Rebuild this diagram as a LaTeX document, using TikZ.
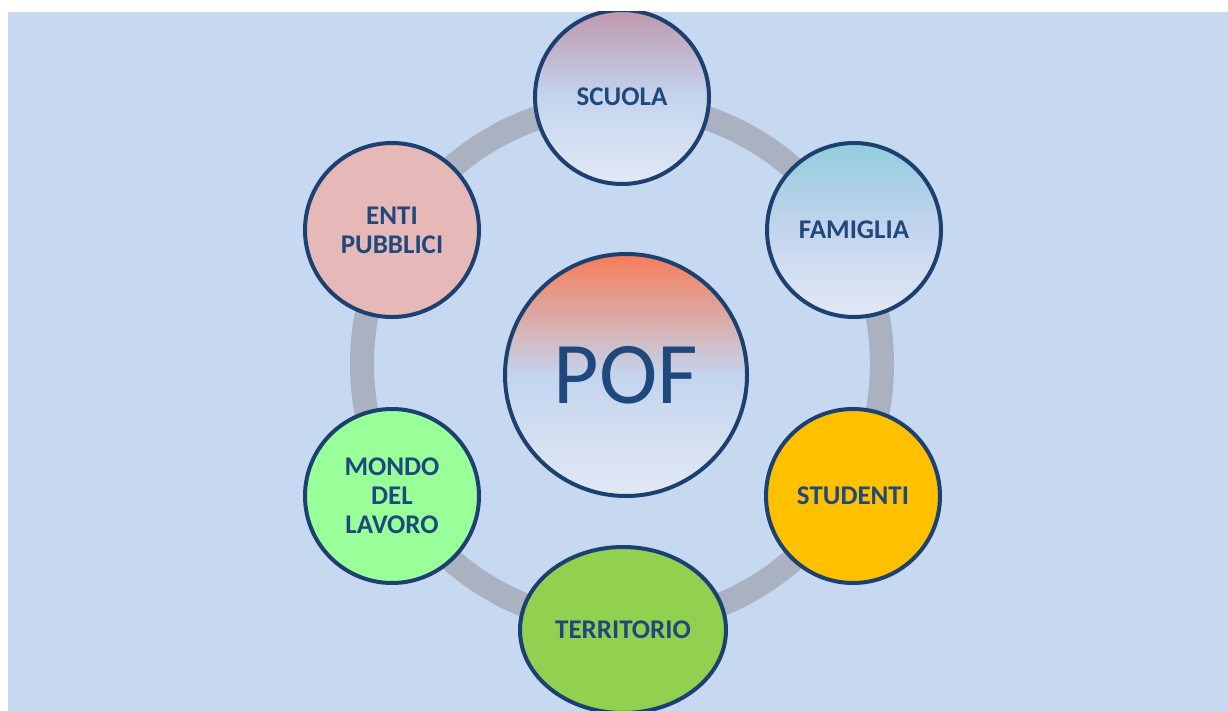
\documentclass[tikz,border=0pt]{standalone}
\usepackage{fontspec}
\setmainfont{Carlito}
\usetikzlibrary{shapes.geometric}
\definecolor{bgblue}{RGB}{198,217,241}
\definecolor{ringgrey}{RGB}{170,177,192}
\definecolor{edgeblue}{RGB}{28,64,112}
\definecolor{txtblue}{RGB}{31,73,125}
\definecolor{midblue}{RGB}{196,212,238}
\definecolor{lowblue}{RGB}{226,233,245}
\definecolor{mauve}{RGB}{190,152,172}
\definecolor{cyanish}{RGB}{146,205,220}
\definecolor{orangeish}{RGB}{246,124,88}
\definecolor{pinkish}{RGB}{230,185,184}
\definecolor{greenlight}{RGB}{153,255,153}
\definecolor{goldish}{RGB}{255,192,0}
\definecolor{greenmid}{RGB}{146,208,80}
\tikzset{
  bubble/.style={circle, draw=edgeblue, line width=4pt, minimum size=174pt, inner sep=0pt,
    text=txtblue, align=center, font=\fontsize{27}{29}\selectfont\bfseries},
  gradbubble/.style={bubble, top color=#1, bottom color=lowblue, middle color=midblue}
}
\begin{document}
\begin{tikzpicture}[x=1pt,y=-1pt]
\useasboundingbox (0,0) rectangle (1228,711);
\fill[white] (0,0) rectangle (1228,711);
\fill[bgblue] (8,12) rectangle (1228,711);
\begin{scope}
\clip (8,12) rectangle (1228,711);
\draw[ringgrey, line width=24pt] (622,364) circle[radius=260pt];
\node[gradbubble=mauve] (scuola) at (622,97) {SCUOLA};
\node[gradbubble=cyanish] (famiglia) at (854,230) {FAMIGLIA};
\node[bubble, fill=goldish] (studenti) at (853,496) {STUDENTI};
\node[bubble, ellipse, fill=greenmid, minimum width=206pt, minimum height=166pt] (territorio) at (623,630) {TERRITORIO};
\node[bubble, fill=greenlight] (mondo) at (392,496) {MONDO\\DEL\\LAVORO};
\node[bubble, fill=pinkish] (enti) at (392,230) {ENTI\\PUBBLICI};
\node[gradbubble=orangeish, minimum size=242pt, font=\fontsize{88}{100}\selectfont] (pof) at (626,375) {POF};
\end{scope}
\end{tikzpicture}
\end{document}
